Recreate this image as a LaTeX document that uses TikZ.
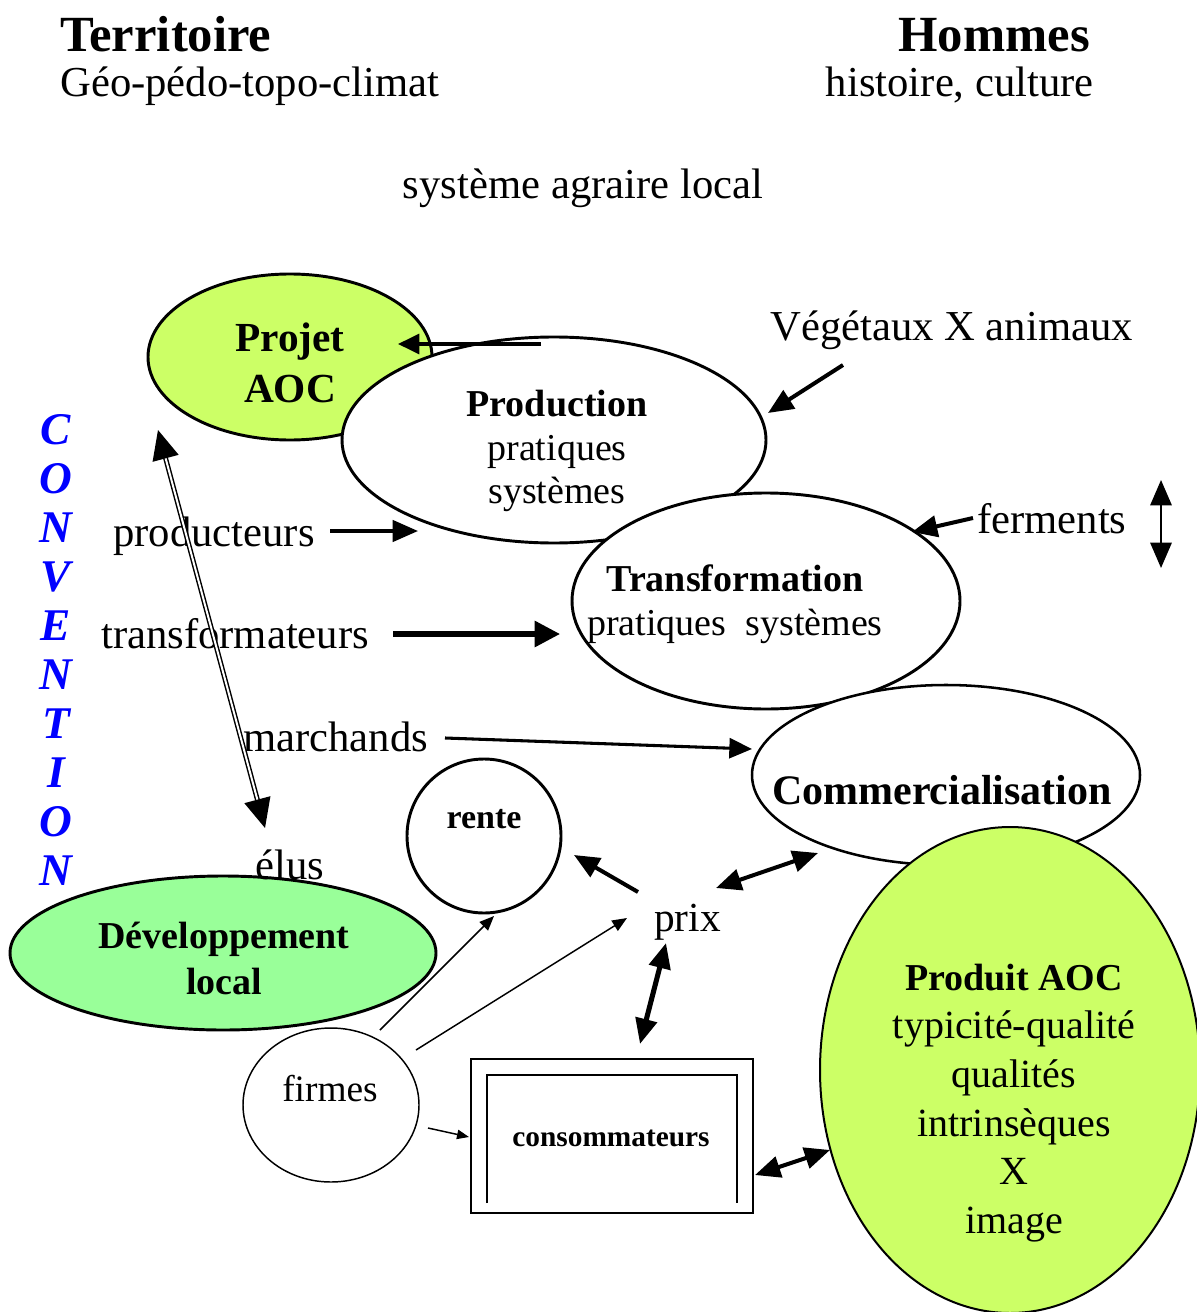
\documentclass[tikz,border=0pt]{standalone}
\usepackage{fontspec}
\setmainfont{Liberation Serif}
\usetikzlibrary{calc,arrows.meta,shapes.geometric}
\definecolor{aocvert}{RGB}{204,255,102}
\definecolor{devvert}{RGB}{153,255,153}
\definecolor{convbleu}{RGB}{0,0,255}

\begin{document}
\begin{tikzpicture}[x=0.75pt, y=-0.75pt,
	ell/.style={ellipse, draw, line width=2.2pt, inner sep=0pt},
	txt/.style={font=\fontsize{32}{38}\selectfont, inner sep=0pt},
	titre/.style={font=\fontsize{38}{44}\selectfont\bfseries, inner sep=0pt},
	dedans/.style={font=\fontsize{28.5}{32.5}\selectfont, align=center, inner sep=0pt},
	arr/.style={-{Triangle[length=19pt,width=16pt]}, line width=3pt},
	darr/.style={{Triangle[length=19pt,width=16pt]}-{Triangle[length=19pt,width=16pt]}, line width=3pt},
	fin/.style={-{Triangle[length=11pt,width=9pt]}, line width=1.1pt},
	dbl/.style={double, double distance=1.5pt, line width=1.1pt,
		{Triangle[length=22pt,width=20pt]}-{Triangle[length=22pt,width=20pt]}}]
	\useasboundingbox (0,0) rectangle (1196,1312);
	
	% en-tete
	\node[titre, anchor=base west] (terr) at (60,52) {Territoire};
	\node[txt, anchor=base west] (geo) at (60,97) {Géo-pédo-topo-climat};
	\node[titre, anchor=base east] (hom) at (1090,52) {Hommes};
	\node[txt, anchor=base east] (hist) at (1094,97) {histoire, culture};
	\node[txt, anchor=base] (sys) at (583,199) {système agraire local};
	
	% ellipses
	\node[ell, fill=aocvert, minimum width=213pt, minimum height=124.5pt] (projet) at (290,357) {};
	\node[ell, fill=white, minimum width=318pt, minimum height=154.5pt] (prod) at (554,440) {};
	\node[ell, fill=white, minimum width=291pt, minimum height=162pt] (trans) at (766,601) {};
	\node[ell, fill=white, line width=1.9pt, minimum width=291pt, minimum height=135pt] (comm) at (946,775) {};
	\node[ell, fill=aocvert, line width=1.5pt, minimum width=285pt, minimum height=364.5pt] (produit) at (1010,1070) {};
	\node[ell, fill=devvert, minimum width=319.5pt, minimum height=115.5pt] (dev) at (223,953) {};
	\node[circle, draw, line width=2.2pt, minimum size=115.5pt, inner sep=0pt] (rente) at (484,836) {};
	\node[ell, line width=1.1pt, minimum width=132pt, minimum height=115.5pt] (firmes) at (331,1105) {};
	\node[draw, line width=1.5pt, minimum width=211.5pt, minimum height=115.5pt] (cons) at (612,1136) {};
	\draw[line width=1.5pt] ($(cons)+(-125,67)$) -- ($(cons)+(-125,-61)$) -- ($(cons)+(125,-61)$) -- ($(cons)+(125,67)$);
	
	% textes dans les formes
	\node[dedans, font=\fontsize{31}{38}\selectfont\bfseries] (projett) at (290,363) {Projet\\AOC};
	\node[dedans] (prodt) at (557,451) {\textbf{Production}\\pratiques\\systèmes};
	\node[dedans, font=\fontsize{28.5}{33}\selectfont] (transt) at (735,604) {\textbf{Transformation}\\pratiques~~systèmes};
	\node[dedans, font=\fontsize{31.5}{36}\selectfont\bfseries] (commt) at (942,790) {Commercialisation};
	\node[dedans, font=\fontsize{30}{36.5}\selectfont] (produitt) at (1014,1103) {\fontsize{28.5}{36.5}\selectfont\textbf{Produit AOC}\\typicité-qualité\\qualités\\intrinsèques\\X\\image};
	\node[dedans, font=\fontsize{28.5}{34.5}\selectfont\bfseries] (devt) at (224,958) {Développement\\local};
	\node[dedans, font=\fontsize{25.5}{30}\selectfont\bfseries] (rentet) at (484,819) {rente};
	\node[dedans, font=\fontsize{28}{32}\selectfont] (firmest) at (330,1089) {firmes};
	\node[dedans, font=\fontsize{22}{26}\selectfont\bfseries] (const) at (611,1138) {consommateurs};
	
	% acteurs
	\node[txt, anchor=base west] (vege) at (770,340) {Végétaux X animaux};
	\node[txt, anchor=base west] (ferm) at (977,533) {ferments};
	\node[txt, anchor=base west] (prodr) at (113,546) {producteurs};
	\node[txt, anchor=base west] (transr) at (101,648) {transformateurs};
	\node[txt, anchor=base west] (march) at (243,751) {marchands};
	\node[txt, anchor=base west] (elus) at (255,879) {élus};
	\node[txt, anchor=base west, font=\fontsize{31}{36}\selectfont] (prix) at (654,931) {prix};
	\node[align=center, inner sep=0pt, text=convbleu, font=\fontsize{34}{36.75}\selectfont\bfseries\itshape] (conv) at (56,650) {C\\O\\N\\V\\E\\N\\T\\I\\O\\N};
	
	\coordinate (vhaut) at (1161,480);
	\coordinate (vbas) at (1161,568);
	
	% fleches
	\draw[arr, line width=2.3pt, -{Triangle[length=16pt,width=15pt]}] ($(prod)+(-13,-96)$) -- ($(projet)+(108,-13)$);
	\draw[arr] ($(vege.base west)+(73,25)$) -- ($(prod)+(214,-27)$);
	\draw[arr] ($(ferm.base west)+(-4,-15)$) -- ($(trans)+(146,-69)$);
	\draw[darr, line width=1.5pt] (vhaut) -- (vbas);
	\draw[arr, line width=2.6pt] ($(prodr.base west)+(217,-15)$) -- ($(prod)+(-136,91)$);
	\draw[arr, line width=3.8pt, -{Triangle[length=19pt,width=19pt]}] ($(transr.base west)+(292,-14)$) -- ($(trans)+(-206,33)$);
	\draw[arr, line width=2.3pt, -{Triangle[length=17pt,width=15pt]}] ($(march.base west)+(202,-13)$) -- ($(comm)+(-194,-26)$);
	\draw[dbl] ($(projet)+(-132,73)$) -- ($(elus.base west)+(10,-51)$);
	\draw[arr] ($(prix.base west)+(-16,-39)$) -- ($(rente)+(90,19)$);
	\draw[darr] ($(prix.base west)+(62,-43)$) -- ($(comm)+(-128,78)$);
	\draw[darr, line width=3.8pt] ($(prix.base west)+(12,12)$) -- ($(cons)+(28,-92)$);
	\draw[fin] ($(firmes)+(49,-75)$) -- ($(rente)+(10,80)$);
	\draw[fin] ($(firmes)+(85,-55)$) -- ($(prix.base west)+(-27,-13)$);
	\draw[fin, -{Triangle[length=9pt,width=7pt]}] ($(firmes)+(97,23)$) -- ($(cons)+(-143,1)$);
	\draw[darr] ($(cons)+(143,39)$) -- ($(produit)+(-180,80)$);
\end{tikzpicture}
\end{document}
